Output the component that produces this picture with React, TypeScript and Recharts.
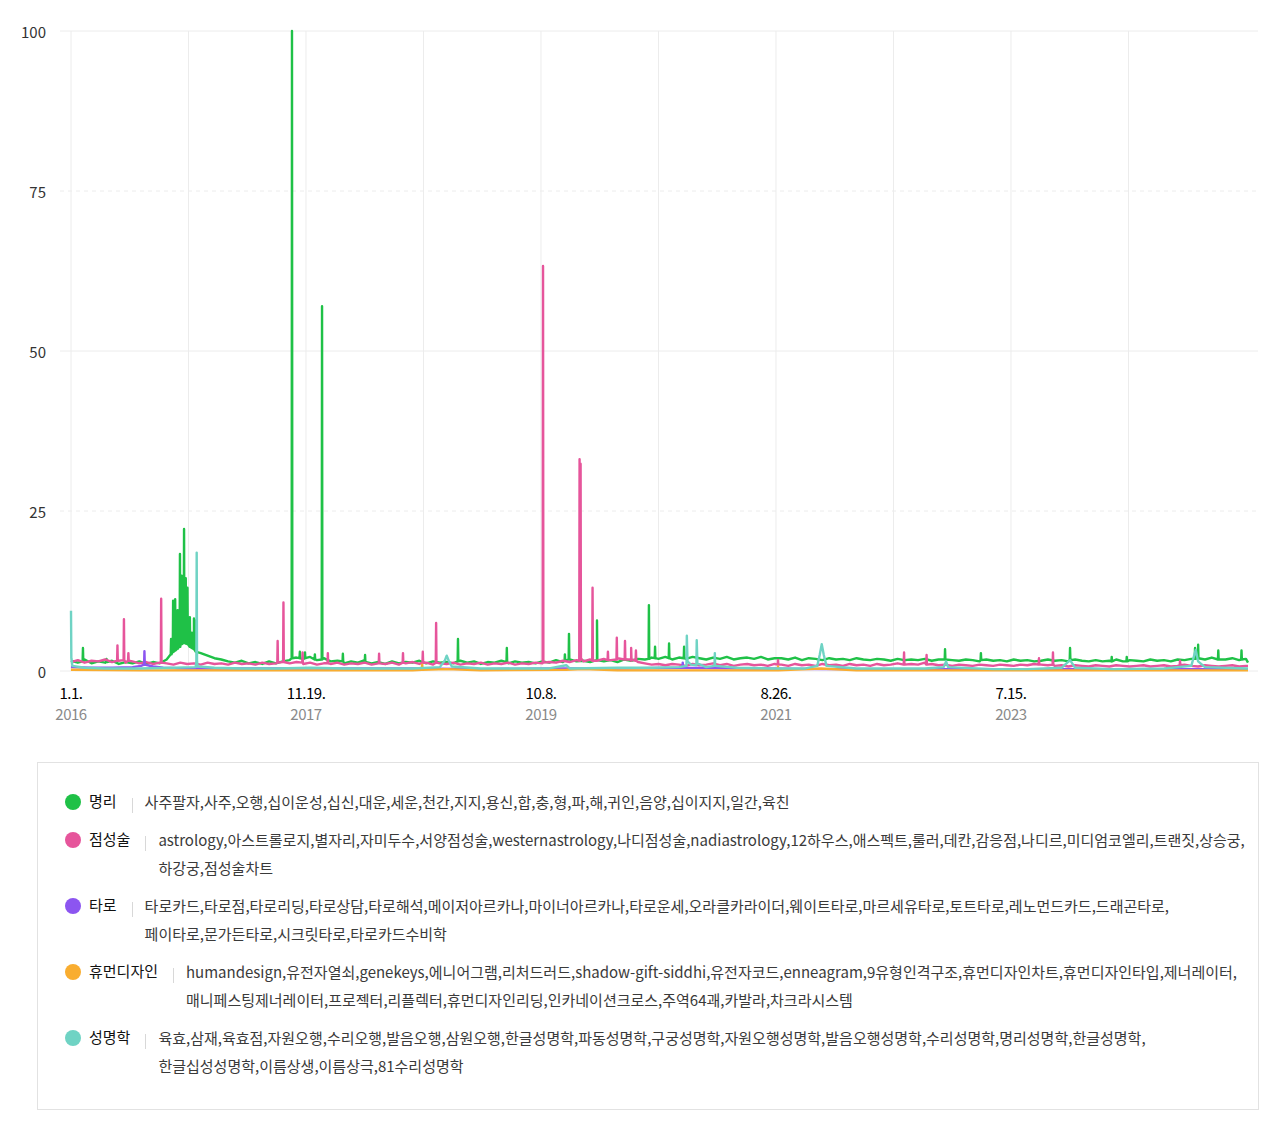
import React from 'react';
import { LineChart, Line, XAxis, YAxis, CartesianGrid } from 'recharts';

// x = day index counted from 2016-01-01, y = relative search volume (0-100)
const LAST_DAY = 3446;
const BASE_STEP = 20; // baseline samples are read every 20 days
const GRID_DAYS = [0, 344, 688, 1032, 1376, 1720, 2064, 2408, 2752, 3096];
const TICK_DAYS = [0, 688, 1376, 2064, 2752];
const TICK_DATES = ['1.1.', '11.19.', '10.8.', '8.26.', '7.15.'];
const TICK_YEARS = ['2016', '2017', '2019', '2021', '2023'];
const Y_TICKS = [0, 25, 50, 75, 100];
const Y_SOLID = [0, 50, 100];
const Y_DASHED = [25, 75];

// 명리: baseline every 20 days, spikes as [day, base, peak]
const myeongriBase = [
  1.6, 1.3, 1.8, 1.2, 1.5, 1.3, 1.6, 1.1, 1.4, 1.2, 1.5, 1.1, 1.4, 1.2,
  1.8, 3.0, 3.8, 4.3, 3.6, 2.8, 2.4, 2.0, 1.8, 1.5,
  1.3, 1.6, 1.2, 1.4, 1.1, 1.5, 1.2, 1.5,
  1.7, 2.1, 1.8, 2.2, 1.7, 2.0, 1.5,
  1.6, 1.2, 1.5, 1.3, 1.7, 1.2, 1.4, 1.1, 1.5, 1.2, 1.4, 1.3, 1.6, 1.2, 1.5, 1.3, 1.4,
  1.2, 1.6, 1.3, 1.5, 1.1, 1.4, 1.3, 1.6, 1.2, 1.5, 1.3, 1.4, 1.2,
  1.5, 1.3, 1.7, 1.4, 1.8, 1.5, 1.6, 1.4, 1.8, 1.5, 1.7, 1.4, 1.8, 1.6, 1.9,
  1.8, 2.1, 1.9, 2.2, 1.8, 2.1, 1.9, 2.2, 2.0, 1.8, 2.1, 1.9, 2.2, 1.8, 2.0, 2.1, 1.9, 2.2, 1.8, 2.0,
  2.0, 1.8, 2.1, 1.7, 2.0, 1.9, 1.7, 2.0, 1.8, 1.9, 1.7, 2.0, 1.8, 1.7, 1.9, 1.8, 1.6, 1.9, 1.7, 1.8,
  1.7, 1.9, 1.6, 1.8, 1.9, 1.7, 1.6, 1.8, 1.7, 1.5, 1.8, 1.6, 1.7, 1.5, 1.8, 1.6, 1.7, 1.5, 1.6, 1.8,
  1.6, 1.7, 1.5, 1.8, 1.6, 1.5, 1.7, 1.5, 1.6, 1.8, 1.5, 1.7, 1.6, 1.5, 1.8, 1.6, 1.7, 1.5, 1.8, 1.7,
  1.9, 2.0, 1.8, 2.1, 1.9, 1.8, 2.0, 1.7, 1.9,
];
const myeongriSpikes: [number, number, number][] = [
  [35, 1.5, 3.6], [104, 1.4, 1.9], [293, 2.6, 5.0], [299, 3.0, 11.0], [305, 3.2, 11.2], [312, 3.5, 9.5],
  [319, 4.0, 18.3], [324, 4.2, 14.9], [331, 4.4, 22.2], [336, 4.3, 14.5], [341, 4.2, 13.0], [348, 3.8, 8.4],
  [354, 3.6, 6.0], [360, 3.4, 8.2], [366, 3.0, 7.9], [647, 2.0, 100], [670, 2.0, 3.0], [685, 2.0, 2.9],
  [714, 1.8, 2.6], [735, 1.8, 57], [796, 1.5, 2.7], [861, 1.4, 2.5], [1133, 1.5, 5.0], [1276, 1.4, 3.6],
  [1446, 1.6, 2.6], [1458, 1.8, 5.8], [1540, 1.7, 7.9], [1692, 1.9, 10.3], [1710, 2.0, 3.8], [1751, 2.0, 4.3],
  [1795, 2.0, 3.8], [2559, 1.8, 3.4], [2664, 1.7, 2.8], [2925, 1.7, 3.6], [3047, 1.5, 2.2], [3091, 1.5, 2.2],
  [3291, 1.9, 3.6], [3300, 2.0, 4.1], [3359, 1.8, 3.2], [3427, 1.8, 3.2],
];
const myeongriLast = 1.3;

// 점성술
const astrologyBase = [
  1.4, 1.7, 1.3, 1.6, 1.5, 1.8, 1.4, 1.6, 1.3, 1.5, 1.2, 1.4, 1.1, 1.3,
  1.2, 1.0, 1.3, 1.1, 1.2, 1.0, 1.3, 1.1, 1.2, 1.0, 1.3, 1.1, 1.2, 1.0, 1.3, 1.1, 1.2, 1.4,
  1.2, 1.4, 1.1, 1.3, 1.0, 1.2, 1.1, 1.3, 1.0, 1.2, 1.1, 1.3, 1.0, 1.2, 1.1, 1.3, 1.0, 1.2, 1.4, 1.1, 1.3, 1.0, 1.2, 1.1,
  1.3, 1.0, 1.2, 1.1, 1.3, 1.0, 1.2, 1.1, 1.3, 1.0, 1.2, 1.1, 1.3,
  1.2, 1.4, 1.3, 1.6, 1.4, 1.7, 1.5, 1.8, 1.6, 1.9, 1.7, 2.0, 1.8, 1.6, 1.4,
  1.2, 1.0, 1.1, 0.9, 1.1, 1.0, 0.8, 1.1, 0.9, 1.0, 1.2, 0.9, 1.1, 0.8, 1.0, 1.1, 0.9, 1.0, 0.8, 1.1,
  1.0, 0.8, 1.1, 0.9, 1.0, 0.8, 1.1, 0.9, 1.0, 0.8, 1.1, 0.9, 1.0, 0.8, 1.1, 0.9, 1.0, 1.2, 1.0, 1.1,
  1.0, 1.3, 1.1, 0.9, 1.0, 0.8, 1.0, 0.9, 0.8, 1.0, 0.9, 0.8, 1.0, 0.9, 0.8, 1.0, 0.9, 1.1, 1.0, 0.9,
  0.8, 0.9, 0.7, 0.9, 0.8, 0.7, 0.9, 0.8, 0.7, 0.9, 0.8, 0.7, 0.8, 0.9, 0.7, 0.8, 0.9, 0.7, 0.8, 1.0,
  0.8, 0.7, 0.9, 0.8, 0.7, 0.8, 0.9, 0.7, 0.8,
];
const astrologySpikes: [number, number, number][] = [
  [136, 1.6, 4.0], [155, 1.7, 8.1], [168, 1.6, 2.8], [264, 1.3, 11.3], [605, 1.3, 4.7], [622, 1.4, 10.7],
  [678, 1.3, 2.9], [752, 1.2, 2.8], [902, 1.2, 2.7], [972, 1.3, 2.8], [1030, 1.3, 3.0], [1069, 1.3, 7.5],
  [1382, 1.3, 63.3], [1489, 1.6, 33.1], [1492, 2.0, 32.4], [1527, 1.6, 13.0], [1572, 1.7, 3.0], [1598, 1.8, 5.2],
  [1622, 1.8, 4.7], [1640, 1.8, 3.6], [1654, 1.6, 3.2], [2070, 1.0, 1.7], [2439, 1.0, 2.9], [2505, 1.0, 2.5],
  [2834, 1.0, 2.0], [2875, 1.0, 2.9], [3247, 0.9, 1.6],
];
const astrologyLast = 0.8;

// 타로, 휴먼디자인, 성명학: mostly flat, read as [day, value]
const tarot: [number, number][] = [
  [0, 0.6], [60, 0.5], [120, 0.5], [180, 0.6], [205, 0.8], [214, 1.0], [215, 3.1], [216, 1.0], [240, 0.7], [270, 0.5],
  [330, 0.4], [450, 0.4], [600, 0.4], [800, 0.4], [1000, 0.4], [1200, 0.3], [1400, 0.4], [1600, 0.4], [1790, 0.5], [1791, 1.3],
  [1792, 0.5], [2000, 0.4], [2200, 0.3], [2500, 0.3], [2800, 0.3], [3100, 0.3], [3446, 0.3],
];

const humanDesign: [number, number][] = [
  [0, 0.2], [200, 0.1], [400, 0.1], [600, 0.1], [800, 0.1], [1000, 0.1], [1027, 0.2], [1028, 1.0], [1029, 0.2], [1100, 0.3],
  [1200, 0.1], [1450, 0.2], [1500, 0.3], [1600, 0.1], [1800, 0.1], [2069, 0.1], [2070, 0.7], [2071, 0.1], [2196, 0.4], [2300, 0.1],
  [2600, 0.1], [2900, 0.1], [3200, 0.1], [3446, 0.1],
];

const naming: [number, number][] = [
  [0, 9.4], [1, 2.0], [4, 0.8], [40, 0.5], [100, 0.4], [200, 0.4], [300, 0.5], [365, 0.6], [367, 1.5], [368, 18.5],
  [369, 1.5], [371, 0.7], [420, 0.5], [500, 0.4], [600, 0.4], [700, 0.5], [800, 0.4], [900, 0.4], [1000, 0.4], [1080, 0.6],
  [1095, 1.7], [1100, 2.4], [1106, 1.6], [1115, 0.7], [1200, 0.4], [1300, 0.4], [1400, 0.4], [1450, 0.9], [1460, 0.4], [1600, 0.5],
  [1700, 0.5], [1780, 0.6], [1802, 0.8], [1803, 5.5], [1805, 1.5], [1815, 1.0], [1831, 0.9], [1832, 4.8], [1834, 1.2], [1860, 0.6],
  [1884, 0.8], [1885, 2.8], [1886, 0.8], [1950, 0.5], [2050, 0.4], [2150, 0.4], [2185, 0.8], [2192, 2.5], [2198, 4.2], [2204, 2.5],
  [2212, 0.8], [2300, 0.4], [2400, 0.4], [2500, 0.4], [2555, 0.6], [2562, 1.5], [2568, 0.6], [2700, 0.3], [2800, 0.3], [2900, 0.5],
  [2925, 1.7], [2940, 0.5], [3050, 0.3], [3200, 0.4], [3280, 0.8], [3293, 3.3], [3300, 1.5], [3320, 0.6], [3446, 0.4],
];

// baseline samples + spikes (each spike = base on the day before/after, peak on the day) + last day
const buildSeries = (base: number[], spikes: [number, number, number][], last: number) => {
  const pts: { d: number; v: number }[] = base.map((v, i) => ({ d: i * BASE_STEP, v }));
  spikes.forEach(([d, b, p]) => {
    pts.push({ d: d - 1, v: b }, { d, v: p }, { d: d + 1, v: b });
  });
  pts.push({ d: LAST_DAY, v: last });
  return pts.sort((a, b) => a.d - b.d);
};
const toPoints = (arr: [number, number][]) => arr.map(([d, v]) => ({ d, v }));

const SERIES = [
  {
    name: '명리', color: '#1fc147', data: buildSeries(myeongriBase, myeongriSpikes, myeongriLast),
    keywords: ['사주팔자,사주,오행,십이운성,십신,대운,세운,천간,지지,용신,합,충,형,파,해,귀인,음양,십이지지,일간,육친'],
  },
  {
    name: '점성술', color: '#e6559b', data: buildSeries(astrologyBase, astrologySpikes, astrologyLast),
    keywords: [
      'astrology,아스트롤로지,별자리,자미두수,서양점성술,westernastrology,나디점성술,nadiastrology,12하우스,애스펙트,룰러,데칸,감응점,나디르,미디엄코엘리,트랜짓,상승궁,',
      '하강궁,점성술차트',
    ],
  },
  {
    name: '타로', color: '#8c55f0', data: toPoints(tarot),
    keywords: [
      '타로카드,타로점,타로리딩,타로상담,타로해석,메이저아르카나,마이너아르카나,타로운세,오라클카라이더,웨이트타로,마르세유타로,토트타로,레노먼드카드,드래곤타로,',
      '페이타로,문가든타로,시크릿타로,타로카드수비학',
    ],
  },
  {
    name: '휴먼디자인', color: '#f9ad30', data: toPoints(humanDesign),
    keywords: [
      'humandesign,유전자열쇠,genekeys,에니어그램,리처드러드,shadow-gift-siddhi,유전자코드,enneagram,9유형인격구조,휴먼디자인차트,휴먼디자인타입,제너레이터,',
      '매니페스팅제너레이터,프로젝터,리플렉터,휴먼디자인리딩,인카네이션크로스,주역64괘,카발라,차크라시스템',
    ],
  },
  {
    name: '성명학', color: '#6fd3c4', data: toPoints(naming),
    keywords: [
      '육효,삼재,육효점,자원오행,수리오행,발음오행,삼원오행,한글성명학,파동성명학,구궁성명학,자원오행성명학,발음오행성명학,수리성명학,명리성명학,한글성명학,',
      '한글십성성명학,이름상생,이름상극,81수리성명학',
    ],
  },
];

const FONT = '"Noto Sans CJK KR", "Noto Sans", sans-serif';

const XTick = ({ x, y, payload }: any) => {
  const i = TICK_DAYS.indexOf(payload.value);
  if (i < 0) return null;
  return (
    <g>
      <text x={x} y={y + 21} textAnchor="middle" dominantBaseline="central"
        style={{ fontFamily: FONT, fontSize: 15, fill: '#000', letterSpacing: '-0.5px' }}>
        {TICK_DATES[i]}
      </text>
      <text x={x} y={y + 42} textAnchor="middle" dominantBaseline="central"
        style={{ fontFamily: FONT, fontSize: 15, fill: '#8a8a8a', letterSpacing: '-0.5px' }}>
        {TICK_YEARS[i]}
      </text>
    </g>
  );
};

const YTick = ({ x, y, payload }: any) => (
  <text x={x - 14} y={y} textAnchor="end" dominantBaseline="central"
    style={{ fontFamily: FONT, fontSize: 15, fill: '#333' }}>
    {payload.value}
  </text>
);

export default function App() {
  return (
    <div style={{ fontFamily: FONT }}>
      <LineChart width={1264} height={730} margin={{ top: 23, right: 14, bottom: 0, left: 0 }}>
        <CartesianGrid stroke="#ececec" horizontalValues={Y_SOLID} verticalValues={GRID_DAYS} />
        <CartesianGrid stroke="#ececec" strokeDasharray="4 4" vertical={false} horizontalValues={Y_DASHED} />
        <XAxis
          dataKey="d"
          type="number"
          domain={[0, LAST_DAY]}
          ticks={GRID_DAYS}
          padding={{ left: 11, right: 10 }}
          axisLine={false}
          tickLine={false}
          tickSize={0}
          tickMargin={0}
          height={67}
          interval={0}
          tick={<XTick />}
        />
        <YAxis
          type="number"
          domain={[0, 100]}
          ticks={Y_TICKS}
          width={52}
          axisLine={false}
          tickLine={false}
          tickSize={0}
          tickMargin={0}
          interval={0}
          tick={<YTick />}
        />
        {SERIES.map((s) => (
          <Line
            key={s.name}
            data={s.data}
            dataKey="v"
            name={s.name}
            type="linear"
            stroke={s.color}
            strokeWidth={2.4}
            strokeLinejoin="round"
            dot={false}
            activeDot={false}
            isAnimationActive={false}
          />
        ))}
      </LineChart>

      <div
        style={{
          marginTop: 24,
          marginLeft: 29,
          width: 1222,
          height: 348,
          boxSizing: 'border-box',
          border: '1px solid #e2e2e2',
          padding: '25px 0 0 27px',
        }}
      >
        {SERIES.map((s) => (
          <div key={s.name} style={{ display: 'flex', alignItems: 'flex-start', marginBottom: 10 }}>
            <div style={{ height: 28, display: 'flex', alignItems: 'center' }}>
              <div style={{ width: 16, height: 16, borderRadius: 8, background: s.color }} />
            </div>
            <div style={{ marginLeft: 8, height: 28, lineHeight: '28px', fontSize: 15, color: '#111', whiteSpace: 'nowrap', position: 'relative', top: -1 }}>
              {s.name}
            </div>
            <div style={{ height: 28, display: 'flex', alignItems: 'center' }}>
              <div style={{ width: 1, height: 15, background: '#d8d8d8', margin: '0 12px 0 15px', position: 'relative', top: 3 }} />
            </div>
            <div>
              {s.keywords.map((line, i) => (
                <div key={i} style={{ height: 28, lineHeight: '28px', fontSize: 15, color: '#3a3a3a', letterSpacing: '0px', whiteSpace: 'nowrap' }}>
                  {line}
                </div>
              ))}
            </div>
          </div>
        ))}
      </div>
    </div>
  );
}
